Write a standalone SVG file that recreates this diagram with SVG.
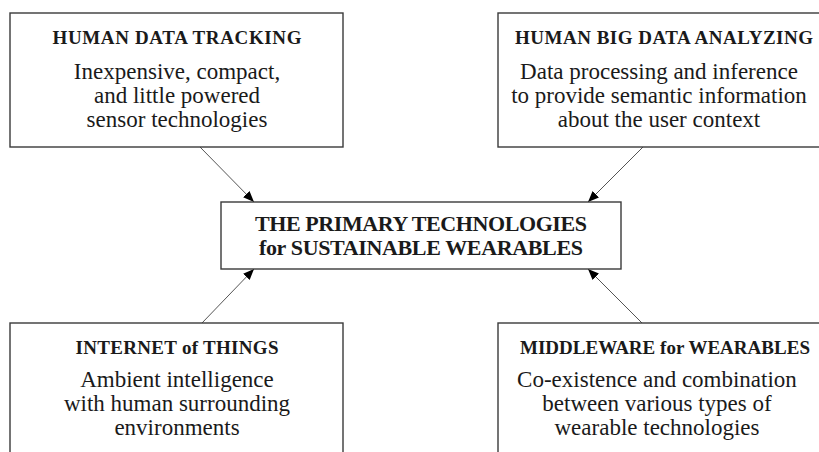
<svg xmlns="http://www.w3.org/2000/svg" width="819" height="452" viewBox="0 0 819 452">
  <style>
    .box { fill: #ffffff; stroke: #3a3a3a; stroke-width: 1.4; }
    .title { font-family: "Liberation Serif", "Times New Roman", serif; font-weight: bold; font-size: 19px; fill: #1a1a1a; text-anchor: middle; }
    .body { font-family: "Liberation Serif", "Times New Roman", serif; font-size: 23px; fill: #1a1a1a; text-anchor: middle; }
    .main { font-family: "Liberation Serif", "Times New Roman", serif; font-weight: bold; font-size: 22px; fill: #1a1a1a; text-anchor: middle; }
    .link { stroke: #555555; stroke-width: 1; fill: none; marker-end: url(#arrow); }
  </style>
  <defs>
    <marker id="arrow" markerUnits="userSpaceOnUse" markerWidth="12" markerHeight="10" refX="11" refY="4.5" orient="auto">
      <path d="M0,0 L11,4.5 L0,9 z" fill="#000000"/>
    </marker>
  </defs>
  <rect width="819" height="452" fill="#ffffff"/>

  <g id="connectors">
    <line class="link" x1="200" y1="147" x2="254" y2="202"/>
    <line class="link" x1="643" y1="147" x2="588" y2="202"/>
    <line class="link" x1="202" y1="323" x2="254" y2="269"/>
    <line class="link" x1="642" y1="323" x2="588" y2="269"/>
  </g>

  <g id="human-data-tracking">
    <rect class="box" x="10" y="13" width="333" height="134"/>
    <text class="title" x="177" y="44" textLength="249">HUMAN DATA TRACKING</text>
    <text class="body" x="177" y="78.5">Inexpensive, compact,</text>
    <text class="body" x="177" y="102.5">and little powered</text>
    <text class="body" x="177" y="126.5">sensor technologies</text>
  </g>

  <g id="human-big-data-analyzing">
    <rect class="box" x="498" y="13" width="340" height="134"/>
    <text class="title" x="664" y="44" textLength="298">HUMAN BIG DATA ANALYZING</text>
    <text class="body" x="659" y="78.5">Data processing and inference</text>
    <text class="body" x="659" y="102.5">to provide semantic information</text>
    <text class="body" x="659" y="126.5">about the user context</text>
  </g>

  <g id="primary-technologies">
    <rect class="box" x="221" y="202" width="400" height="67"/>
    <text class="main" x="421" y="231" textLength="332">THE PRIMARY TECHNOLOGIES</text>
    <text class="main" x="421" y="255" textLength="324">for SUSTAINABLE WEARABLES</text>
  </g>

  <g id="internet-of-things">
    <rect class="box" x="10" y="323" width="333" height="150"/>
    <text class="title" x="177" y="354" textLength="203">INTERNET of THINGS</text>
    <text class="body" x="177" y="387">Ambient intelligence</text>
    <text class="body" x="177" y="411">with human surrounding</text>
    <text class="body" x="177" y="435">environments</text>
  </g>

  <g id="middleware-for-wearables">
    <rect class="box" x="498" y="323" width="340" height="150"/>
    <text class="title" x="665" y="354" textLength="290">MIDDLEWARE for WEARABLES</text>
    <text class="body" x="657" y="387">Co-existence and combination</text>
    <text class="body" x="657" y="411">between various types of</text>
    <text class="body" x="657" y="435">wearable technologies</text>
  </g>
</svg>
